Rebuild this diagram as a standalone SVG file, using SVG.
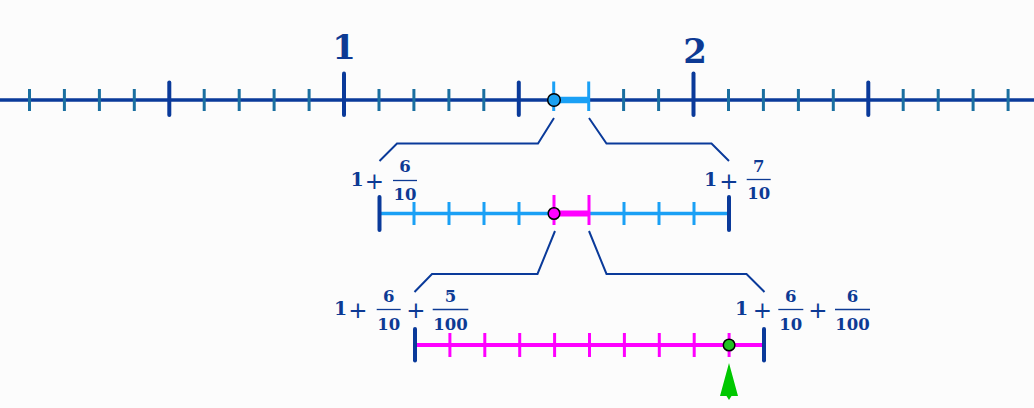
<svg xmlns="http://www.w3.org/2000/svg" width="1034" height="408" viewBox="0 0 1034 408">
<style>
.bg{fill:#fcfcfc}
.axis{stroke:#0a3a9a;stroke-width:3.5}
.minor{stroke:#1a6fa0;stroke-width:3}
.major{stroke:#0a3a9a;stroke-width:4;stroke-linecap:round}
.lb{stroke:#1aa0f5}
.mg{stroke:#ff00ff}
.conn{fill:none;stroke:#0a3a9a;stroke-width:2}
.t{font-family:"DejaVu Serif","Liberation Serif",serif;font-weight:bold;fill:#0d3a94;text-anchor:middle}
.p{font-family:"DejaVu Sans","Liberation Sans",sans-serif;fill:#0d3a94;text-anchor:middle;font-size:23px}
.big{font-size:34px}
.m{font-size:19px}
.f{font-size:16.5px}
.bar{stroke:#0d3a94;stroke-width:1.3}
</style>
<rect class="bg" x="0" y="0" width="1034" height="408"/>
<g id="top-axis">
<line class="axis" x1="0" y1="100" x2="1034" y2="100"/>
<g class="minor">
<line x1="29.5" y1="89" x2="29.5" y2="111"/>
<line x1="64.4" y1="89" x2="64.4" y2="111"/>
<line x1="99.4" y1="89" x2="99.4" y2="111"/>
<line x1="134.3" y1="89" x2="134.3" y2="111"/>
<line x1="204.2" y1="89" x2="204.2" y2="111"/>
<line x1="239.2" y1="89" x2="239.2" y2="111"/>
<line x1="274.1" y1="89" x2="274.1" y2="111"/>
<line x1="309.1" y1="89" x2="309.1" y2="111"/>
<line x1="379" y1="89" x2="379" y2="111"/>
<line x1="413.9" y1="89" x2="413.9" y2="111"/>
<line x1="448.9" y1="89" x2="448.9" y2="111"/>
<line x1="483.8" y1="89" x2="483.8" y2="111"/>
<line x1="623.6" y1="89" x2="623.6" y2="111"/>
<line x1="658.6" y1="89" x2="658.6" y2="111"/>
<line x1="728.5" y1="89" x2="728.5" y2="111"/>
<line x1="763.4" y1="89" x2="763.4" y2="111"/>
<line x1="798.4" y1="89" x2="798.4" y2="111"/>
<line x1="833.3" y1="89" x2="833.3" y2="111"/>
<line x1="903.2" y1="89" x2="903.2" y2="111"/>
<line x1="938.2" y1="89" x2="938.2" y2="111"/>
<line x1="973.1" y1="89" x2="973.1" y2="111"/>
<line x1="1008.1" y1="89" x2="1008.1" y2="111"/>
</g>
<g class="major">
<line x1="169.3" y1="82.5" x2="169.3" y2="115"/>
<line x1="518.8" y1="82.5" x2="518.8" y2="115"/>
<line x1="868.3" y1="82.5" x2="868.3" y2="115"/>
<line x1="344" y1="73.5" x2="344" y2="115"/>
<line x1="693.5" y1="73.5" x2="693.5" y2="115"/>
</g>
<line class="lb" x1="554" y1="100" x2="589" y2="100" stroke-width="6.5"/>
<line class="lb" x1="553.7" y1="81.5" x2="553.7" y2="111" stroke-width="3"/>
<line class="lb" x1="588.7" y1="81.5" x2="588.7" y2="111" stroke-width="3"/>
<circle cx="554" cy="100" r="6.3" fill="#1aa0f0" stroke="#000" stroke-width="1.5"/>
<text class="t big" x="344" y="59">1</text>
<text class="t big" x="695" y="63">2</text>
</g>
<g id="connectors">
<polyline class="conn" points="554,118 538,143.5 397,143.5 379.5,161"/>
<polyline class="conn" points="589,118 606.5,143.5 711.5,143.5 729,161"/>
<polyline class="conn" points="555,231 537.5,274 432,274 414.5,292"/>
<polyline class="conn" points="589,231 606.5,274 746.5,274 764.5,292"/>
</g>
<g id="middle-axis">
<line class="lb" x1="379" y1="213.5" x2="729" y2="213.5" stroke-width="3.5"/>
<g class="lb" stroke-width="3">
<line x1="414" y1="202" x2="414" y2="225"/>
<line x1="449" y1="202" x2="449" y2="225"/>
<line x1="484" y1="202" x2="484" y2="225"/>
<line x1="519" y1="202" x2="519" y2="225"/>
<line x1="624" y1="202" x2="624" y2="225"/>
<line x1="659" y1="202" x2="659" y2="225"/>
<line x1="694" y1="202" x2="694" y2="225"/>
</g>
<line class="major" x1="379.5" y1="197" x2="379.5" y2="230"/>
<line class="major" x1="729" y1="197" x2="729" y2="230"/>
<line class="mg" x1="554" y1="213.5" x2="589" y2="213.5" stroke-width="6"/>
<line class="mg" x1="554" y1="195" x2="554" y2="225" stroke-width="3"/>
<line class="mg" x1="589" y1="195" x2="589" y2="225" stroke-width="3"/>
<circle cx="554" cy="213.5" r="5.8" fill="#ff00ff" stroke="#000" stroke-width="1.5"/>
</g>
<g id="label-mid-left">
<text class="t m" x="357" y="186">1</text>
<text class="p" x="374.5" y="188.5">+</text>
<text class="t f" x="405" y="171.5">6</text>
<line class="bar" x1="393" y1="180.5" x2="417" y2="180.5"/>
<text class="t f" x="405" y="199.5">10</text>
</g>
<g id="label-mid-right">
<text class="t m" x="710.5" y="186">1</text>
<text class="p" x="729" y="188.5">+</text>
<text class="t f" x="758.7" y="171.5">7</text>
<line class="bar" x1="746.7" y1="179.5" x2="770.7" y2="179.5"/>
<text class="t f" x="758.7" y="199">10</text>
</g>
<g id="bottom-axis">
<line class="mg" x1="415" y1="345" x2="764" y2="345" stroke-width="4"/>
<g class="mg" stroke-width="3">
<line x1="449.9" y1="333" x2="449.9" y2="357"/>
<line x1="484.8" y1="333" x2="484.8" y2="357"/>
<line x1="519.7" y1="333" x2="519.7" y2="357"/>
<line x1="554.6" y1="333" x2="554.6" y2="357"/>
<line x1="589.5" y1="333" x2="589.5" y2="357"/>
<line x1="624.4" y1="333" x2="624.4" y2="357"/>
<line x1="659.3" y1="333" x2="659.3" y2="357"/>
<line x1="694.2" y1="333" x2="694.2" y2="357"/>
<line x1="729.1" y1="333" x2="729.1" y2="357"/>
</g>
<line class="major" x1="415" y1="329" x2="415" y2="360.5"/>
<line class="major" x1="764" y1="329" x2="764" y2="360.5"/>
<circle cx="729.1" cy="345" r="5.8" fill="#22c022" stroke="#000" stroke-width="1.5"/>
</g>
<g id="label-bottom-left">
<text class="t m" x="340.5" y="315">1</text>
<text class="p" x="358" y="317.5">+</text>
<text class="t f" x="388.7" y="302">6</text>
<line class="bar" x1="376.7" y1="309.5" x2="400.7" y2="309.5"/>
<text class="t f" x="388.7" y="329.5">10</text>
<text class="p" x="416" y="317.5">+</text>
<text class="t f" x="450.5" y="302">5</text>
<line class="bar" x1="432.7" y1="309.5" x2="468.3" y2="309.5"/>
<text class="t f" x="450.5" y="329.5">100</text>
</g>
<g id="label-bottom-right">
<text class="t m" x="741.5" y="315">1</text>
<text class="p" x="762.5" y="317.5">+</text>
<text class="t f" x="790.8" y="302">6</text>
<line class="bar" x1="778.3" y1="309.5" x2="803.3" y2="309.5"/>
<text class="t f" x="790.8" y="329.5">10</text>
<text class="p" x="818" y="317.5">+</text>
<text class="t f" x="852.5" y="302">6</text>
<line class="bar" x1="835" y1="309.5" x2="870" y2="309.5"/>
<text class="t f" x="852.5" y="329.5">100</text>
</g>
<g id="pointer">
<path d="M729,363 L738,396 L731.5,396 L729,400 L726.5,396 L720,396 Z" fill="#00c800"/>
</g>
</svg>
